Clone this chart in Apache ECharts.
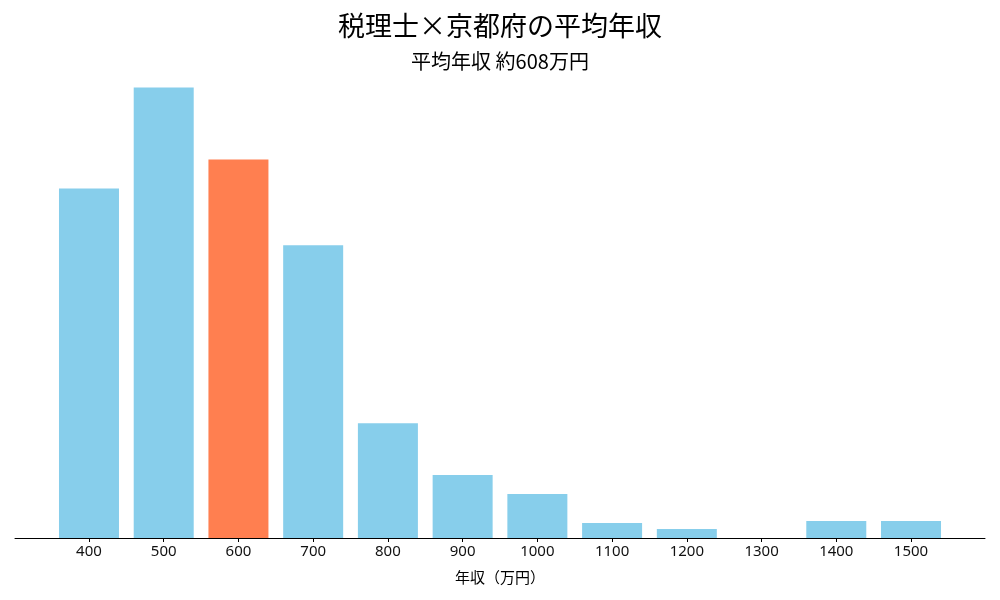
<!DOCTYPE html>
<html><head><meta charset="utf-8">
<script src="https://cdn.jsdelivr.net/npm/echarts@6/dist/echarts.min.js"></script>
<style>html,body{margin:0;padding:0;background:#fff}#c{width:1000px;height:600px}</style>
</head><body><div id="c"></div>
<script>
const categories = [400,500,600,700,800,900,1000,1100,1200,1300,1400,1500];
const values = [350,451,379,293,115,63,44,15,9,0,17,17];
const highlight = 600;
const tickLabels = ['400','500','600','700','800','900','1000','1100','1200','1300','1400','1500'];
const titleText = '税理士×京都府の平均年収';
const subtitleText = '平均年収 約608万円';
const xName = '年収（万円）';

const font = '"Noto Sans CJK JP", "Noto Sans", sans-serif';
const chart = echarts.init(document.getElementById('c'));
const maxV = Math.max(...values);
chart.setOption({
  animation: false,
  title: [
    {text: titleText, left: 'center', top: 7, textStyle: {fontFamily: font, fontSize: 27, fontWeight: 'normal', color: '#000'}},
    {text: subtitleText, left: 'center', top: 46, textStyle: {fontFamily: font, fontSize: 20, fontWeight: 'normal', color: '#000'}}
  ],
  grid: {left: 15, right: 15, top: 65, bottom: 62},
  xAxis: {
    type: 'value', min: 301, max: 1599,
    splitLine: {show: false},
    axisLine: {show: true, onZero: false, lineStyle: {color: '#000', width: 1}},
    axisTick: {show: true, length: 4, lineStyle: {color: '#000'}, customValues: categories},
    axisLabel: {customValues: categories, formatter: v => tickLabels[categories.indexOf(v)] ?? '', color: '#111', fontSize: 15, fontFamily: '"Noto Sans", sans-serif', margin: 6},
    name: xName, nameLocation: 'middle', nameGap: 32,
    nameTextStyle: {fontFamily: font, fontSize: 15, color: '#000'}
  },
  yAxis: {type: 'value', min: 0, max: maxV * 1.05, show: false},
  series: [{
    type: 'bar', barWidth: 60,
    data: categories.map((c, i) => ({value: [c, values[i]], itemStyle: {color: c === highlight ? '#FF7F50' : '#87CEEB'}}))
  }]
});
</script></body></html>
